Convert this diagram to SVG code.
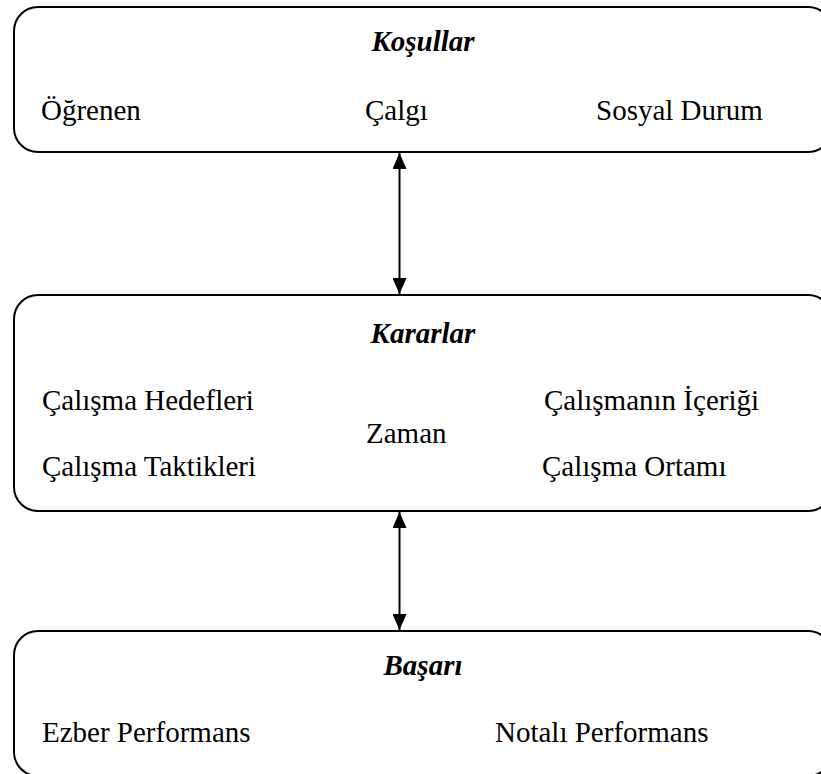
<svg xmlns="http://www.w3.org/2000/svg" width="821" height="774" viewBox="0 0 821 774">
  <style>
    .box { fill: #ffffff; stroke: #000000; stroke-width: 2; }
    .head { font-family: "Liberation Serif", "Times New Roman", serif; font-size: 29px; font-weight: bold; font-style: italic; text-anchor: middle; fill: #000; }
    .item { font-family: "Liberation Serif", "Times New Roman", serif; font-size: 29px; fill: #000; }
    .link { stroke: #000000; stroke-width: 2; fill: none; marker-start: url(#tip); marker-end: url(#tip); }
  </style>
  <defs>
    <marker id="tip" markerUnits="userSpaceOnUse" markerWidth="16" markerHeight="14" refX="16" refY="7" orient="auto-start-reverse">
      <path d="M0,0 L16,7 L0,14 Z" fill="#000000"/>
    </marker>
  </defs>
  <rect width="821" height="774" fill="#ffffff"/>

  <g id="kosullar">
    <rect class="box" x="14" y="7" width="818" height="145" rx="24" ry="24"/>
    <text class="head" x="423" y="51">Koşullar</text>
    <text class="item" x="41" y="120">Öğrenen</text>
    <text class="item" x="365" y="120">Çalgı</text>
    <text class="item" x="596" y="120">Sosyal Durum</text>
  </g>

  <g id="kararlar">
    <rect class="box" x="14" y="295" width="818" height="216" rx="24" ry="24"/>
    <text class="head" x="423" y="343">Kararlar</text>
    <text class="item" x="42" y="410">Çalışma Hedefleri</text>
    <text class="item" x="544" y="410">Çalışmanın İçeriği</text>
    <text class="item" x="366" y="443">Zaman</text>
    <text class="item" x="42" y="476">Çalışma Taktikleri</text>
    <text class="item" x="542" y="476">Çalışma Ortamı</text>
  </g>

  <g id="basari">
    <rect class="box" x="14" y="631" width="818" height="145" rx="24" ry="24"/>
    <text class="head" x="423" y="675">Başarı</text>
    <text class="item" x="42" y="742">Ezber Performans</text>
    <text class="item" x="495" y="742">Notalı Performans</text>
  </g>

  <g id="connectors">
    <line class="link" x1="399.5" y1="153" x2="399.5" y2="294"/>
    <line class="link" x1="399.5" y1="512" x2="399.5" y2="630"/>
  </g>
</svg>
